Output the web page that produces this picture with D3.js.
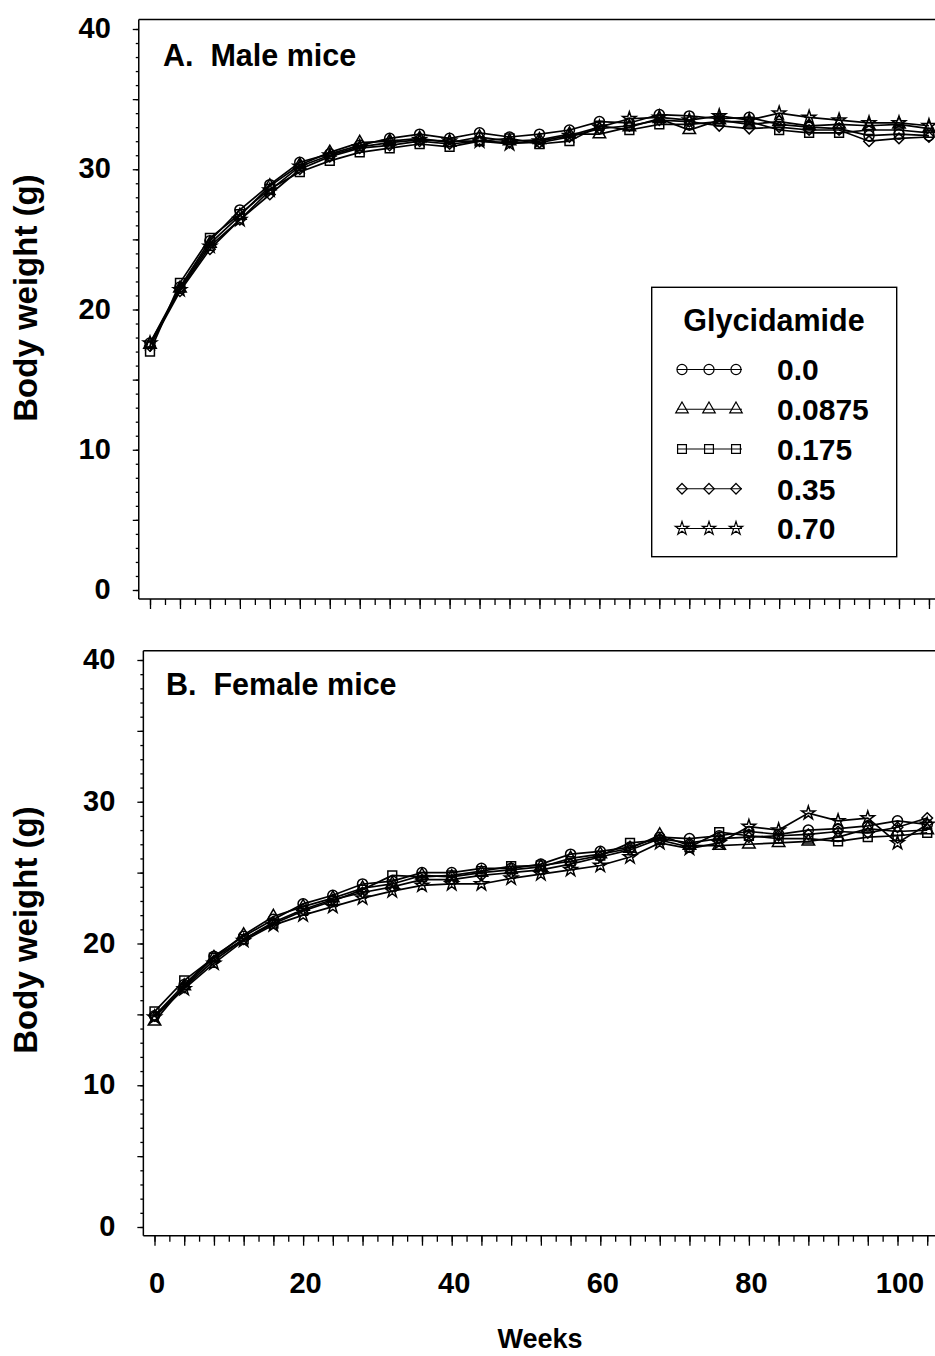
<!DOCTYPE html>
<html><head><meta charset="utf-8">
<script src="https://cdn.jsdelivr.net/npm/d3@7"></script>
<style>
html,body{margin:0;padding:0;background:#fff;}
svg{display:block;}
text{font-family:"Liberation Sans",Arial,sans-serif;font-weight:bold;fill:#000;}
</style></head>
<body>
<svg id="chart" width="935" height="1356"></svg>
<script>
const weeks = [0,4,8,12,16,20,24,28,32,36,40,44,48,52,56,60,64,68,72,76,80,84,88,92,96,100,104];
const doseLabels = ["0.0","0.0875","0.175","0.35","0.70"];
const yTickLabels = [0,10,20,30,40];
const xTickLabels = [0,20,40,60,80,100];

// Male mice (A)
const male00    = [17.6,21.6,24.9,27.1,28.9,30.5,31.1,31.7,32.2,32.5,32.2,32.6,32.3,32.5,32.8,33.4,33.3,33.9,33.8,33.6,33.7,33.2,33.0,32.9,32.4,32.5,32.4];
const male00875 = [17.5,21.5,24.7,26.7,28.8,30.3,31.2,31.9,32.0,32.2,31.9,32.3,32.0,32.1,32.5,32.5,33.0,33.6,32.8,33.5,33.2,33.4,33.1,33.2,33.1,33.2,32.9];
const male0175  = [17.0,21.9,25.1,26.8,28.6,29.8,30.6,31.2,31.5,31.8,31.6,32.0,32.2,31.8,32.0,33.1,32.8,33.2,33.2,33.4,33.4,32.8,32.6,32.6,32.8,32.8,32.6];
const male035   = [17.4,21.3,24.3,26.4,28.2,30.0,30.9,31.5,31.7,32.0,31.8,32.0,31.9,31.9,32.3,32.9,33.1,33.5,33.4,33.1,32.9,33.0,32.8,32.8,32.0,32.2,32.3];
const male070   = [17.6,21.4,24.5,26.4,28.5,30.2,31.0,31.6,31.9,32.1,32.0,32.0,31.8,32.0,32.4,33.0,33.6,33.7,33.5,33.8,33.5,34.0,33.7,33.5,33.3,33.3,33.1];

// Female mice (B)
const female00    = [14.9,17.1,19.1,20.5,21.7,22.8,23.4,24.2,24.4,25.0,25.0,25.3,25.3,25.6,26.3,26.5,26.8,27.5,27.4,27.6,27.9,27.7,28.0,28.1,28.3,28.65,28.4];
const female00875 = [14.5,17.0,19.0,20.6,21.9,22.6,23.2,23.9,24.2,24.8,24.7,25.0,25.2,25.4,26.0,26.3,26.7,27.65,26.9,26.9,27.0,27.1,27.2,27.5,28.1,27.9,28.0];
const female0175  = [15.2,17.4,19.0,20.3,21.4,22.3,23.0,23.8,24.8,24.7,24.8,25.1,25.45,25.5,25.8,26.2,27.1,27.3,26.8,27.85,27.6,27.4,27.4,27.2,27.5,27.6,27.8];
const female035   = [14.9,16.9,18.8,20.3,21.5,22.4,23.1,23.6,24.0,24.5,24.5,24.8,25.0,25.2,25.6,26.1,26.6,27.4,27.1,27.4,27.5,27.6,27.7,27.9,27.8,28.2,28.85];
const female070   = [14.8,16.8,18.6,20.2,21.3,22.0,22.6,23.2,23.7,24.1,24.2,24.2,24.6,24.9,25.2,25.5,26.1,27.1,26.7,27.1,28.25,28.0,29.2,28.65,28.85,27.1,28.4];

const maleSeries = [male00, male00875, male0175, male035, male070];
const femaleSeries = [female00, female00875, female0175, female035, female070];

const svg = d3.select("#chart");

// custom rhombus
const symbolRhombus = { draw(ctx, size){ const r = Math.sqrt(size/2); ctx.moveTo(0,-r); ctx.lineTo(r,0); ctx.lineTo(0,r); ctx.lineTo(-r,0); ctx.closePath(); } };
const symTypes = [d3.symbolCircle, d3.symbolTriangle, d3.symbolSquare, symbolRhombus, d3.symbolStar];
const symSizes = [80, 68, 78, 56, 56];
function symPath(i){ return d3.symbol().type(symTypes[i]).size(symSizes[i])(); }

function panel(cfg){
  const g = svg.append("g");
  const x = d3.scaleLinear().domain([0, 104]).range([cfg.x0, cfg.x0 + 104*cfg.pxw]);
  const y = d3.scaleLinear().domain([0, 40]).range([cfg.y0, cfg.y40]);
  const left = x(-1.5), bottom = cfg.axisY, top = cfg.frameTop;

  // frame
  g.append("line").attr("x1",left).attr("x2",960).attr("y1",top).attr("y2",top).attr("stroke","#000").attr("stroke-width",1.5);
  g.append("line").attr("x1",left).attr("x2",left).attr("y1",top).attr("y2",bottom).attr("stroke","#000").attr("stroke-width",1.5);
  g.append("line").attr("x1",left).attr("x2",960).attr("y1",bottom).attr("y2",bottom).attr("stroke","#000").attr("stroke-width",1.5);

  // y ticks
  const yMinor = d3.axisLeft(y).tickValues(d3.range(0,41,1)).tickSize(3).tickFormat("");
  const yMajor = d3.axisLeft(y).tickValues(d3.range(0,41,5)).tickSize(6).tickPadding(22)
      .tickFormat(d => yTickLabels.includes(d) ? d : "");
  const gy1 = g.append("g").attr("transform",`translate(${left},0)`).call(yMinor);
  const gy2 = g.append("g").attr("transform",`translate(${left},0)`).call(yMajor);
  [gy1,gy2].forEach(a => { a.select(".domain").remove(); a.selectAll("line").attr("stroke","#000").attr("stroke-width",1.3); });
  gy2.selectAll("text").attr("font-size",29).attr("font-family","Liberation Sans, Arial, sans-serif").attr("font-weight","bold").attr("dy","0.3em");

  // x ticks
  const xMinor = d3.axisBottom(x).tickValues(d3.range(0,106,2)).tickSize(6).tickFormat("");
  const xMajor = d3.axisBottom(x).tickValues(d3.range(0,106,4)).tickSize(10).tickPadding(27)
      .tickFormat(d => (cfg.xLabels && xTickLabels.includes(d)) ? d : "");
  const gx1 = g.append("g").attr("transform",`translate(0,${bottom})`).call(xMinor);
  const gx2 = g.append("g").attr("transform",`translate(0,${bottom})`).call(xMajor);
  [gx1,gx2].forEach(a => { a.select(".domain").remove(); a.selectAll("line").attr("stroke","#000").attr("stroke-width",1.3); });
  gx2.selectAll("text").attr("font-size",29).attr("font-family","Liberation Sans, Arial, sans-serif").attr("font-weight","bold").attr("dx",2);

  // series
  const line = d3.line().x((d,i)=>x(weeks[i])).y(d=>y(d));
  cfg.series.forEach((vals,si) => {
    g.append("path").attr("d",line(vals)).attr("fill","none").attr("stroke","#000").attr("stroke-width",1.7);
  });
  cfg.series.forEach((vals,si) => {
    g.append("g").selectAll("path").data(vals).join("path")
      .attr("d", symPath(si))
      .attr("transform",(d,i)=>`translate(${x(weeks[i])},${y(d)})`)
      .attr("fill","none").attr("stroke","#000").attr("stroke-width",1.5);
  });

  // panel title
  g.append("text").attr("x",cfg.titleX).attr("y",cfg.titleY).attr("font-size",30.5).attr("xml:space","preserve").text(cfg.title);

  // y label
  g.append("text").attr("transform",`translate(37,${cfg.ylabY}) rotate(-90)`).attr("text-anchor","middle")
    .attr("font-size",33).text("Body weight (g)");
  return {x,y};
}

panel({x0:150, pxw:7.49, y0:590, y40:29, axisY:599, frameTop:19.5, series:maleSeries, xLabels:false,
  title:"A.  Male mice", titleX:163, titleY:66, ylabY:298});
panel({x0:154.5, pxw:7.43, y0:1227, y40:660, axisY:1235.7, frameTop:650.7, series:femaleSeries, xLabels:true,
  title:"B.  Female mice", titleX:166, titleY:695, ylabY:930});

// x label
svg.append("text").attr("x",540).attr("y",1348).attr("text-anchor","middle").attr("font-size",27).text("Weeks");

// legend
const lg = svg.append("g");
lg.append("rect").attr("x",651.7).attr("y",287.3).attr("width",245).attr("height",269.4)
  .attr("fill","#fff").attr("stroke","#000").attr("stroke-width",1.4);
lg.append("text").attr("x",774).attr("y",331).attr("text-anchor","middle").attr("font-size",30.5).text("Glycidamide");
const legRowY = d3.scalePoint().domain(doseLabels).range([369.5, 528.5]);
const legMarkX = [682, 709, 736];
doseLabels.forEach((lab,i) => {
  const yy = legRowY(lab);
  lg.append("line").attr("x1",677).attr("x2",742).attr("y1",yy).attr("y2",yy).attr("stroke","#000").attr("stroke-width",1.2);
  lg.append("g").selectAll("path").data(legMarkX).join("path")
    .attr("d",symPath(i)).attr("transform",d=>`translate(${d},${yy})`)
    .attr("fill","none").attr("stroke","#000").attr("stroke-width",1.2);
  lg.append("text").attr("x",777).attr("y",yy).attr("dy","0.36em").attr("font-size",30).text(lab);
});
</script>
</body></html>
